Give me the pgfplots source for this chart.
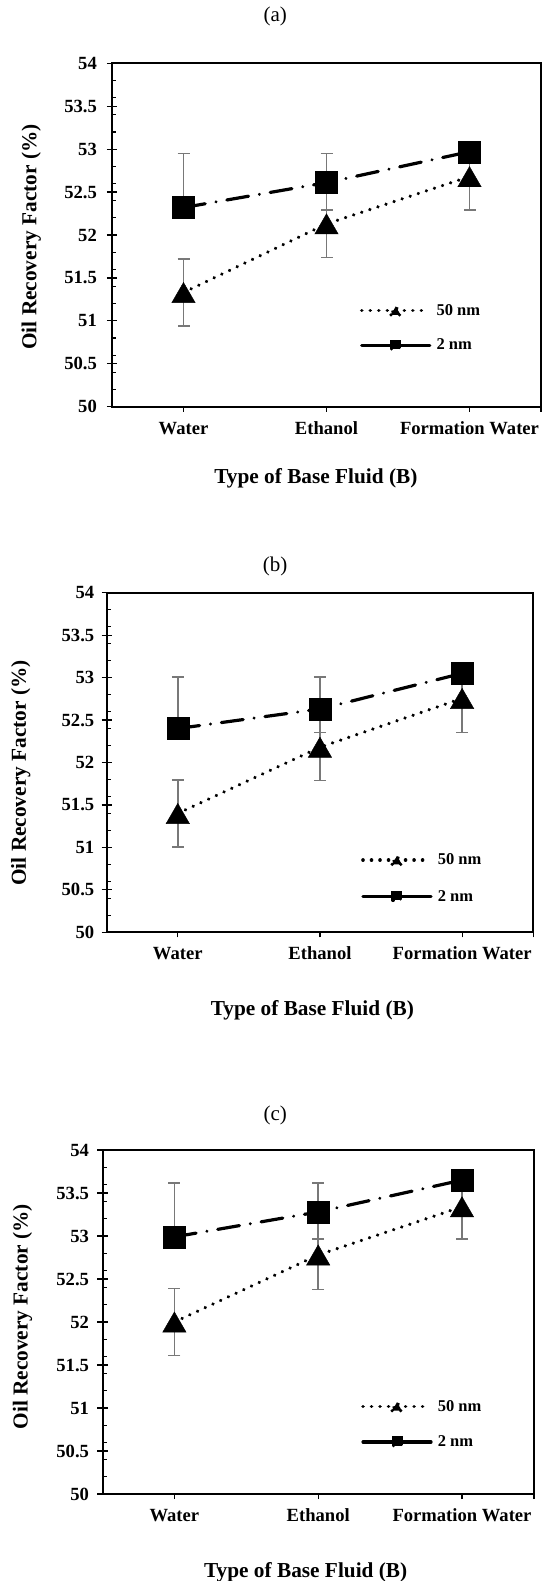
\documentclass[border=0pt]{standalone}
\usepackage{fontspec}
\setmainfont{Liberation Serif}
\usepackage{pgfplots}
\pgfplotsset{compat=1.18}
\definecolor{errgray}{RGB}{120,120,120}
\pgfplotsset{
 common/.style={
  scale only axis,
  xmin=-0.5, xmax=2.5, ymin=50, ymax=54,
  xtick={0,1,2}, xticklabels={Water,Ethanol,Formation Water},
  ytick={50,50.5,51,51.5,52,52.5,53,53.5,54},
  yticklabels={50,50.5,51,51.5,52,52.5,53,53.5,54},
  minor ytick={50.2,50.4,50.6,50.8,51.2,51.4,51.6,51.8,52.2,52.4,52.6,52.8,53.2,53.4,53.6,53.8},
  xtick pos=lower, ytick pos=left,
  xtick align=outside, ytick align=inside,
  major tick length=5pt, minor tick length=4pt,
  tick style={black, line width=1.2pt},
  extra y ticks={50,50.5,51,51.5,52,52.5,53,53.5,54}, extra y tick labels={},
  extra y tick style={tick align=outside},
  extra x ticks={2.5}, extra x tick labels={},
  axis line style={black, line width=2pt},
  ticklabel style={font=\bfseries\fontsize{18.6}{18.6}\selectfont},
  xticklabel style={anchor=base, inner sep=0pt, yshift=-22.6pt},
  label style={font=\bfseries\fontsize{21.3}{21.3}\selectfont},
  every axis title shift=0pt,
  title style={font=\fontsize{21}{21}\selectfont, anchor=center},
  xlabel={Type of Base Fluid (B)}, ylabel={Oil Recovery Factor (\%)},
  legend cell align=left,
  legend style={draw=none, fill=none, inner sep=0pt, outer sep=0pt, anchor=west,
    nodes={inner sep=0pt, font=\bfseries\fontsize{16.5}{16.5}\selectfont},
    /tikz/every odd column/.append style={column sep=5pt}},
 },
 errs/.style={
  error bars/y dir=both, error bars/y explicit,
  error bars/error bar style={errgray, line width=1.6pt, solid, line cap=butt},
  error bars/error mark options={rotate=90, mark size=6pt, errgray, line width=1.6pt, solid, line cap=butt}},
 tri/.style={black, line width=3.6pt, line cap=round, dash pattern=on 0.01pt off 8.5pt,
  mark=triangle*, mark size=13.5pt, mark options={solid, fill=black, line width=0.4pt, yshift=-3.4pt},
  errs,
  legend image code/.code={
  \draw[black, line width=3.6pt, line cap=round, dash pattern=on 0.01pt off 8.5pt] (0pt,0pt) -- (68pt,0pt);
  \fill[black] (29.2pt,-4.2pt) -- (38.8pt,-4.2pt) -- (34pt,4.3pt) -- cycle;}},
 sq/.style={black, line width=3.2pt, line cap=round, dash pattern=on 22pt off 11pt on 0.01pt off 11pt,
  mark=square*, mark size=11pt, mark options={solid, fill=black, line width=0.4pt},
  errs,
  legend image code/.code={
  \draw[black, line width=3.2pt, solid, line cap=round] (0pt,0pt) -- (68pt,0pt);
  \fill[black] (30.1pt,-3.9pt) rectangle (37.9pt,3.9pt);}},
}
\begin{document}
\begin{tikzpicture}
\useasboundingbox (0pt,0pt) rectangle (546pt,-1581pt);
% (a)
\begin{axis}[common, at={(112pt,-406.7pt)}, anchor=south west, width=429pt, height=343.4pt,
  title={(a)}, title style={at={(axis description cs:0.3804,1.1377)}},
  xlabel style={at={(axis description cs:0.4753,-0.2076)}, anchor=center},
  ylabel style={at={(axis description cs:-0.1881,0.494)}, anchor=center},
  yticklabel style={anchor=east, inner sep=0pt, xshift=-15pt},
  legend style={at={(axis description cs:0.578,0.2295)}, row sep=22pt}]
\addplot[tri] coordinates {(0,51.33) +- (0,0.39) (1,52.13) +- (0,0.39) (2,52.68) +- (0,0.39)};
\addlegendentry{50 nm}
\addplot[sq] coordinates {(0,52.32) += (0,0.63) -= (0,0) (1,52.61) += (0,0.34) -= (0,0.32) (2,52.97) += (0,0) -= (0,0)};
\addlegendentry{2 nm}
\end{axis}
% (b)
\begin{axis}[common, at={(106.7pt,-932.3pt)}, anchor=south west, width=426.5pt, height=339.6pt,
  title={(b)}, title style={at={(axis description cs:0.3951,1.0766)}},
  xlabel style={at={(axis description cs:0.4823,-0.2288)}, anchor=center},
  ylabel style={at={(axis description cs:-0.2016,0.469)}, anchor=center},
  yticklabel style={anchor=east, inner sep=0pt, xshift=-12.3pt},
  legend style={at={(axis description cs:0.5967,0.159)}, row sep=24pt}]
\addplot[tri] coordinates {(0,51.40) +- (0,0.395) (1,52.18) +- (0,0.39) (2,52.755) +- (0,0.40)};
\addlegendentry{50 nm}
\addplot[sq] coordinates {(0,52.40) += (0,0.61) -= (0,0) (1,52.63) += (0,0.38) -= (0,0.275) (2,53.05) += (0,0) -= (0,0)};
\addlegendentry{2 nm}
\end{axis}
% (c)
\begin{axis}[common, at={(102.5pt,-1494pt)}, anchor=south west, width=431.4pt, height=344pt,
  title={(c)}, title style={at={(axis description cs:0.4003,1.1017)}},
  xlabel style={at={(axis description cs:0.471,-0.2267)}, anchor=center},
  ylabel style={at={(axis description cs:-0.1854,0.5154)}, anchor=center},
  yticklabel style={anchor=east, inner sep=0pt, xshift=-13.3pt},
  legend style={at={(axis description cs:0.5997,0.203)}, row sep=23pt}]
\addplot[tri] coordinates {(0,52.00) +- (0,0.39) (1,52.78) +- (0,0.40) (2,53.34) +- (0,0.375)};
\addlegendentry{50 nm}
\addplot[sq] coordinates {(0,52.99) += (0,0.63) -= (0,0) (1,53.28) += (0,0.34) -= (0,0.315) (2,53.65) += (0,0) -= (0,0)};
\addlegendentry{2 nm}
\end{axis}
\end{tikzpicture}
\end{document}
